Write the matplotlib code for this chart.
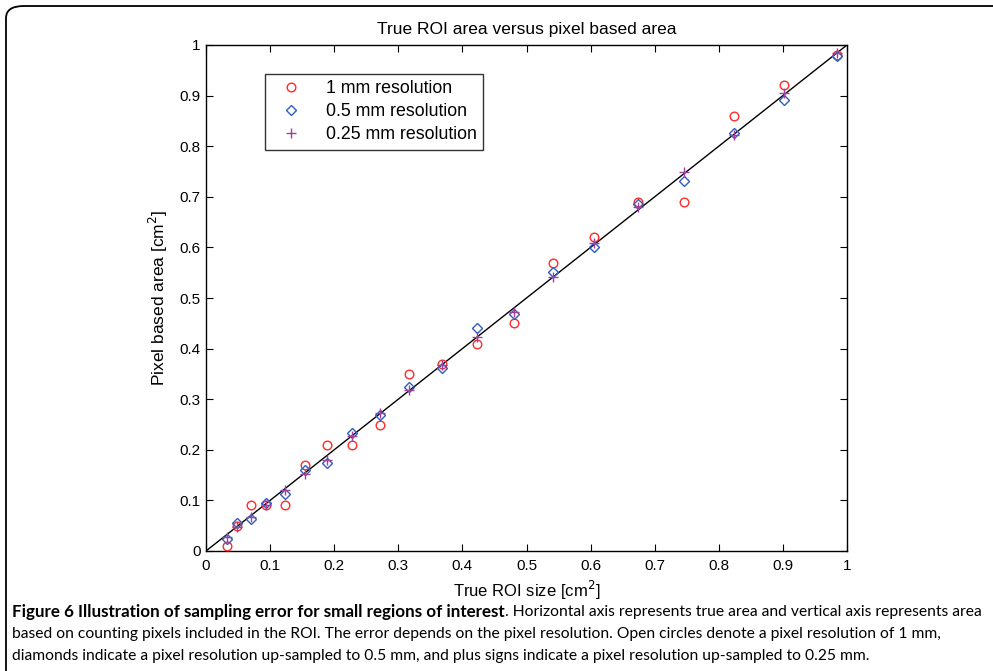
import matplotlib
matplotlib.use("Agg")
import matplotlib.pyplot as plt
from matplotlib.patches import FancyBboxPatch

true_size = [0.032, 0.049, 0.070, 0.094, 0.123, 0.154, 0.189, 0.228, 0.271, 0.317,
             0.368, 0.422, 0.480, 0.541, 0.605, 0.674, 0.746, 0.823, 0.902, 0.985]
res_1mm = [0.01, 0.05, 0.09, 0.09, 0.09, 0.17, 0.21, 0.21, 0.25, 0.35,
           0.37, 0.41, 0.45, 0.57, 0.62, 0.69, 0.69, 0.86, 0.92, 0.98]
res_05mm = [0.024, 0.055, 0.063, 0.094, 0.113, 0.161, 0.173, 0.234, 0.268, 0.325,
            0.361, 0.440, 0.468, 0.552, 0.601, 0.686, 0.732, 0.827, 0.891, 0.979]
res_025mm = [0.028, 0.048, 0.068, 0.090, 0.120, 0.153, 0.180, 0.227, 0.272, 0.318,
             0.368, 0.422, 0.473, 0.542, 0.608, 0.679, 0.750, 0.822, 0.906, 0.985]
ticks = [0, 0.1, 0.2, 0.3, 0.4, 0.5, 0.6, 0.7, 0.8, 0.9, 1]
tick_labels = ["0", "0.1", "0.2", "0.3", "0.4", "0.5", "0.6", "0.7", "0.8", "0.9", "1"]

caption_bold = 'Figure 6 Illustration of sampling error for small regions of interest'
caption_rest = '. Horizontal axis represents true area and vertical axis represents area'
caption_l2 = ('based on counting pixels included in the ROI. The error depends on the pixel '
              'resolution. Open circles denote a pixel resolution of 1 mm,')
caption_l3 = ('diamonds indicate a pixel resolution up-sampled to 0.5 mm, and plus signs '
              'indicate a pixel resolution up-sampled to 0.25 mm.')

plt.rcParams['font.family'] = ['Liberation Sans', 'DejaVu Sans']

fig = plt.figure(figsize=(9.93, 6.71), dpi=100)
ax = fig.add_axes([206/993, 1-551/671, 641/993, 506/671])

ax.plot([0, 1], [0, 1], color='black', lw=1.0, zorder=1)
ax.plot(true_size, res_1mm, linestyle='none', marker='o', ms=6.2, mfc='none',
        mec='#ff2a2a', mew=1.0, label='1 mm resolution', zorder=3)
ax.plot(true_size, res_05mm, linestyle='none', marker='D', ms=5.2, mfc='none',
        mec='#2f5fbf', mew=1.0, label='0.5 mm resolution', zorder=3)
ax.plot(true_size, res_025mm, linestyle='none', marker='+', ms=7.5, mec='#a040a0',
        mew=1.0, label='0.25 mm resolution', zorder=3)

ax.set_xlim(0, 1)
ax.set_ylim(0, 1)
ax.set_xticks(ticks)
ax.set_xticklabels(tick_labels)
ax.set_yticks(ticks)
ax.set_yticklabels(tick_labels)
ax.tick_params(direction='in', top=True, right=True, length=5, labelsize=11)
ax.tick_params(axis='y', pad=4)
ax.tick_params(axis='x', pad=6)
for s in ax.spines.values():
    s.set_linewidth(1.0)

ax.set_title('True ROI area versus pixel based area', fontsize=12.5, pad=8)
ax.set_xlabel(r'True ROI size [cm$^2$]', fontsize=12, labelpad=4)
ax.set_ylabel(r'Pixel based area [cm$^2$]', fontsize=12.5, labelpad=7)

leg = ax.legend(loc='upper left', bbox_to_anchor=(59/641, 1-29/506), fontsize=12.8,
                frameon=True, fancybox=False, edgecolor='black', handlelength=2.2,
                handletextpad=0.9, borderpad=0.35, labelspacing=0.34, borderaxespad=0)
leg.get_frame().set_linewidth(1.0)

# outer border (extends past right and bottom edges)
box = FancyBboxPatch((6/993, -20/671), 1040/993, 685/671,
                     boxstyle='round,pad=0,rounding_size=0.018',
                     transform=fig.transFigure, fill=False, edgecolor='black', lw=1.3,
                     clip_on=False)
fig.add_artist(box)

# caption: fit font sizes to the reference line widths
fig.canvas.draw()
r = fig.canvas.get_renderer()
W = fig.bbox.width

def fitted(text, family, weight, target_px, x_px, y):
    t = fig.text(x_px/W, y, text, fontsize=10, fontweight=weight, family=family,
                 va='center', ha='left')
    w = t.get_window_extent(r).width
    t.set_fontsize(10 * target_px / w)
    return t

cap_font = ['Lato', 'DejaVu Sans']
y1 = 1-612/671
t3 = fitted(caption_l3, cap_font, 'normal', 856, 12, 1-656/671)
fs = t3.get_fontsize()
fig.text(12/W, 1-634/671, caption_l2, fontsize=fs, family=cap_font, va='center', ha='left')
t_rest = fig.text(0, y1, caption_rest, fontsize=fs, family=cap_font, va='center', ha='left')
rest_w = t_rest.get_window_extent(r).width
tb = fitted(caption_bold, cap_font, 'bold', 985 - 12 - rest_w, 12, y1)
bb = tb.get_window_extent(r)
t_rest.set_x(bb.x1 / W)

fig.savefig('out.png', dpi=100)
